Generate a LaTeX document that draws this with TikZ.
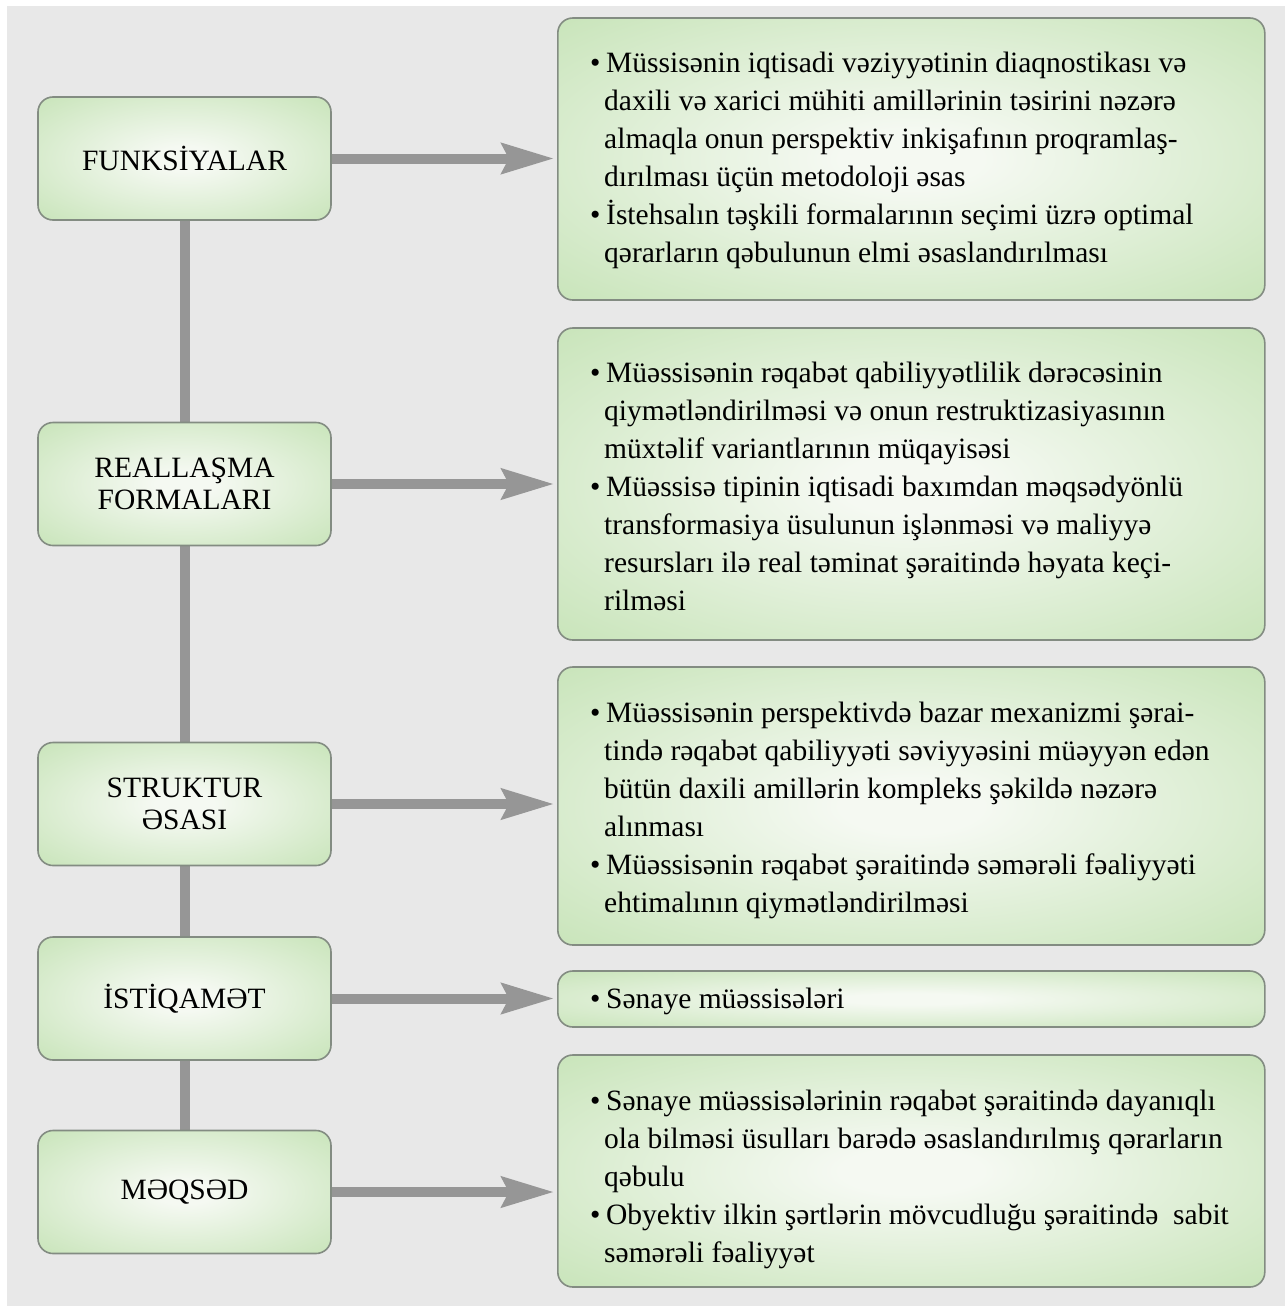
\documentclass[tikz,border=0pt]{standalone}
\usepackage{fontspec}
\setmainfont{Liberation Serif}
\usetikzlibrary{arrows.meta,backgrounds}
\definecolor{bgc}{HTML}{E8E8E8}
\definecolor{gedge}{HTML}{BFE0AE}
\definecolor{gcenter}{HTML}{F5F9F2}
\definecolor{bord}{HTML}{838C82}
\definecolor{connc}{HTML}{969696}
\pgfdeclareradialshading{glow}{\pgfpointorigin}{color(0bp)=(gcenter); color(5bp)=(gcenter); color(42bp)=(gedge); color(100bp)=(gedge)}
\newcommand\bul{\makebox[16pt][l]{•}}
\newcommand\ind{\hspace*{14pt}}
\tikzset{
  boxbase/.style={draw=bord, line width=1.6pt, rounded corners=15pt, shade, shading=glow, inner sep=0pt},
  leftbox/.style={boxbase, minimum width=293pt, minimum height=123pt, align=center,
    font=\fontsize{29.5}{32}\selectfont},
  rightbox/.style={boxbase, minimum width=707pt, anchor=west},
  txt/.style={inner sep=0pt, anchor=north west, align=left, font=\fontsize{29.5}{38}\selectfont},
  vline/.style={draw=connc, line width=10pt},
  harrow/.style={draw=connc, line width=10pt, -{Stealth[length=52pt,width=30pt,inset=7pt]}, shorten >=3pt},
}
\begin{document}
\begin{tikzpicture}[x=1pt,y=-1pt]
\useasboundingbox (0,0) rectangle (1285,1306);
% left boxes
\node[leftbox] (L1) at (184.5,158.5) {FUNKSİYALAR};
\node[leftbox] (L2) at (184.5,484) {REALLAŞMA\\FORMALARI};
\node[leftbox] (L3) at (184.5,804) {STRUKTUR\\ƏSASI};
\node[leftbox] (L4) at (184.5,998.5) {İSTİQAMƏT};
\node[leftbox] (L5) at (184.5,1192) {MƏQSƏD};
% right boxes
\node[rightbox, minimum height=282pt] (R1) at (557,159) {};
\node[rightbox, minimum height=312pt] (R2) at (557,484) {};
\node[rightbox, minimum height=278pt] (R3) at (557,806) {};
\node[rightbox, minimum height=56pt] (R4) at (557,999) {};
\node[rightbox, minimum height=232pt] (R5) at (557,1171) {};
% texts
\node[txt] (T1) at (590,45.4) {\strut\bul Müssisənin iqtisadi vəziyyətinin diaqnostikası və\\
\strut\ind daxili və xarici mühiti amillərinin təsirini nəzərə\\
\strut\ind almaqla onun perspektiv inkişafının proqramlaş-\\
\strut\ind dırılması üçün metodoloji əsas\\
\strut\bul İstehsalın təşkili formalarının seçimi üzrə optimal\\
\strut\ind qərarların qəbulunun elmi əsaslandırılması};
\node[txt] (T2) at (590,355.4) {\strut\bul Müəssisənin rəqabət qabiliyyətlilik dərəcəsinin\\
\strut\ind qiymətləndirilməsi və onun restruktizasiyasının\\
\strut\ind müxtəlif variantlarının müqayisəsi\\
\strut\bul Müəssisə tipinin iqtisadi baxımdan məqsədyönlü\\
\strut\ind transformasiya üsulunun işlənməsi və maliyyə\\
\strut\ind resursları ilə real təminat şəraitində həyata keçi-\\
\strut\ind rilməsi};
\node[txt] (T3) at (590,695.4) {\strut\bul Müəssisənin perspektivdə bazar mexanizmi şərai-\\
\strut\ind tində rəqabət qabiliyyəti səviyyəsini müəyyən edən\\
\strut\ind bütün daxili amillərin kompleks şəkildə nəzərə\\
\strut\ind alınması\\
\strut\bul Müəssisənin rəqabət şəraitində səmərəli fəaliyyəti\\
\strut\ind ehtimalının qiymətləndirilməsi};
\node[txt] (T4) at (590,981.4) {\strut\bul Sənaye müəssisələri};
\node[txt] (T5) at (590,1083.4) {\strut\bul Sənaye müəssisələrinin rəqabət şəraitində dayanıqlı\\
\strut\ind ola bilməsi üsulları barədə əsaslandırılmış qərarların\\
\strut\ind qəbulu\\
\strut\bul Obyektiv ilkin şərtlərin mövcudluğu şəraitində\ \ sabit\\
\strut\ind səmərəli fəaliyyət};
\begin{scope}[on background layer]
\fill[bgc] (7,6) rectangle (1285,1306);
\draw[vline] (L1.south) -- (L2.north);
\draw[vline] (L2.south) -- (L3.north);
\draw[vline] (L3.south) -- (L4.north);
\draw[vline] (L4.south) -- (L5.north);
\draw[harrow] (L1.east) -- (L1.east -| R1.west);
\draw[harrow] (L2.east) -- (L2.east -| R2.west);
\draw[harrow] (L3.east) -- (L3.east -| R3.west);
\draw[harrow] (L4.east) -- (L4.east -| R4.west);
\draw[harrow] (L5.east) -- (L5.east -| R5.west);
\end{scope}
\end{tikzpicture}
\end{document}
